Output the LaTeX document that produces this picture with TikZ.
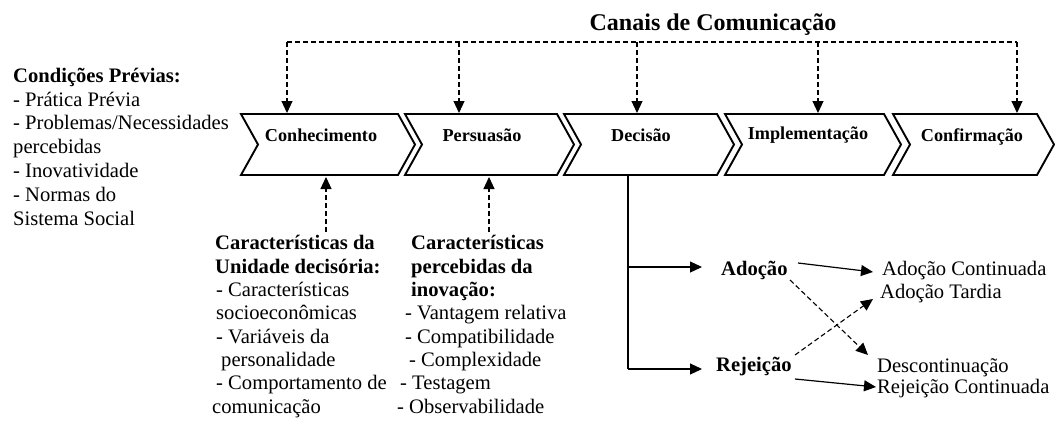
\documentclass[tikz,border=0pt]{standalone}
\usepackage{fontspec}
\setmainfont{Liberation Serif}
\usetikzlibrary{arrows.meta,calc}
\begin{document}
\begin{tikzpicture}[x=1pt,y=-1pt,
  body/.style={inner sep=0pt, anchor=base west, align=left, font=\fontsize{20.6pt}{23.3pt}\selectfont},
  chevron/.style={draw, line width=1.9pt, line join=miter},
  clabel/.style={inner sep=0pt, anchor=base, font=\fontsize{18.2pt}{20pt}\selectfont\bfseries},
  dashline/.style={line width=1.1pt, dash pattern=on 5pt off 3pt},
  tip/.style={-{Triangle[length=12pt,width=11pt]}},
  conn/.style={line width=1.2pt},
]
\useasboundingbox (0,0) rectangle (1055,423);

% title
\node[inner sep=0pt, anchor=base, font=\fontsize{24pt}{26pt}\selectfont\bfseries] (title) at (713,30) {Canais de Comunicação};

% prior conditions (anchor = baseline of last line)
\node[body, font=\fontsize{20.6pt}{23.8pt}\selectfont] (prev) at (13,225) {\textbf{Condições Prévias:}\\- Prática Prévia\\- Problemas/Necessidades\\percebidas\\- Inovatividade\\- Normas do\\Sistema Social};

% chevrons
\draw[chevron] (241,114) -- (398,114) -- (415,144.5) -- (398,175) -- (241,175) -- (258,144.5) -- cycle;
\draw[chevron] (405,114) -- (557,114) -- (574,144.5) -- (557,175) -- (405,175) -- (422,144.5) -- cycle;
\draw[chevron] (564,114) -- (717,114) -- (734,144.5) -- (717,175) -- (564,175) -- (581,144.5) -- cycle;
\draw[chevron] (725,114) -- (884,114) -- (901,144.5) -- (884,175) -- (725,175) -- (742,144.5) -- cycle;
\draw[chevron] (893,114) -- (1037,114) -- (1054,144.5) -- (1037,175) -- (893,175) -- (910,144.5) -- cycle;

\node[clabel] (conh) at (321,141) {Conhecimento};
\node[clabel] (pers) at (482,141) {Persuasão};
\node[clabel] (deci) at (641,141) {Decisão};
\node[clabel] (impl) at (808,139) {Implementação};
\node[clabel] (conf) at (972,141) {Confirmação};

% communication channels
\coordinate (k1) at (287,42);
\coordinate (k2) at (459,42);
\coordinate (k3) at (637,42);
\coordinate (k4) at (818,42);
\coordinate (k5) at (1017,42);
\coordinate (t1) at (287,113);
\coordinate (t2) at (459,113);
\coordinate (t3) at (637,113);
\coordinate (t4) at (818,113);
\coordinate (t5) at (1017,113);
\draw[dashline] (k1) -- (k5);
\foreach \i in {1,...,5}{\draw[dashline,tip] (k\i) -- (t\i);}

% bottom characteristics (anchor = baseline of last line)
\node[body] (unid) at (212,413) {\hspace*{3pt}\textbf{Características da}\\\hspace*{3pt}\textbf{Unidade decisória:}\\\hspace*{4pt}- Características\\\hspace*{4pt}socioeconômicas\\\hspace*{4pt}- Variáveis da\\\hspace*{9pt}personalidade\\\hspace*{4pt}- Comportamento de\\comunicação};
\node[body] (inov) at (397,413) {\hspace*{14pt}\textbf{Características}\\\hspace*{14pt}\textbf{percebidas da}\\\hspace*{14pt}\textbf{inovação:}\\\hspace*{8pt}- Vantagem relativa\\\hspace*{8pt}- Compatibilidade\\\hspace*{12pt}- Complexidade\\\hspace*{3pt}- Testagem\\- Observabilidade};
\coordinate (u1) at (326,232);
\coordinate (b1) at (326,177);
\coordinate (u2) at (489,232);
\coordinate (b2) at (489,177);
\draw[dashline,tip] (u1) -- (b1);
\draw[dashline,tip] (u2) -- (b2);

% decision branches
\coordinate (d0) at (628,175);
\coordinate (d1) at (628,267);
\coordinate (d2) at (628,369);
\coordinate (e1) at (702,267);
\coordinate (e2) at (702,369);
\draw[conn] (d0) -- (d2);
\draw[conn,tip] (d1) -- (e1);
\draw[conn,tip] (d2) -- (e2);

\node[body,font=\fontsize{20.6pt}{23.5pt}\selectfont\bfseries] (ado) at (721,275.5) {Adoção};
\node[body,font=\fontsize{20.6pt}{23.5pt}\selectfont\bfseries] (rej) at (716,371) {Rejeição};
\node[body] (adoc) at (882,275) {Adoção Continuada};
\node[body] (adot) at (880,298) {Adoção Tardia};
\node[body] (desc) at (877,372) {Descontinuação};
\node[body] (rejc) at (877,393.5) {Rejeição Continuada};

\coordinate (a1) at (798,263);
\coordinate (a2) at (873,272);
\coordinate (a3) at (790,280);
\coordinate (a4) at (868,355);
\coordinate (r1) at (795,355);
\coordinate (r2) at (873,299);
\coordinate (r3) at (795,379);
\coordinate (r4) at (876,387);
\draw[conn,tip] (a1) -- (a2);
\draw[dashline,tip] (a3) -- (a4);
\draw[dashline,tip] (r1) -- (r2);
\draw[conn,tip] (r3) -- (r4);
\end{tikzpicture}
\end{document}
